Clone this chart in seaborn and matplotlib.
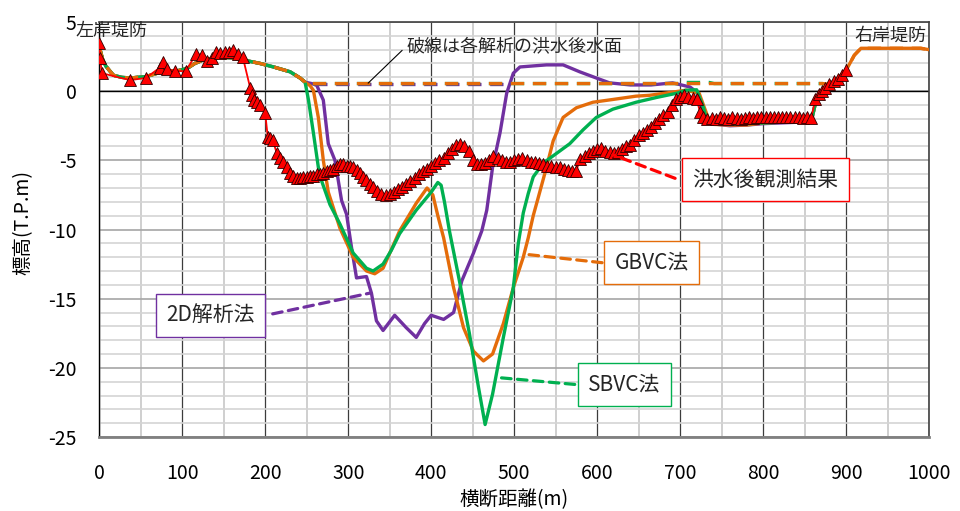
import matplotlib
matplotlib.use("Agg")
import matplotlib.pyplot as plt
import seaborn as sns
import pandas as pd

# ---- observed bed after the flood (x: m, z: T.P.m) ----
obs_x = [0, 1, 3, 37, 56, 73, 77, 82, 91, 104,
         117, 124, 130, 136, 141, 146, 151, 156, 161, 167,
         173, 182, 184, 186, 190, 194, 200, 203, 206, 209,
         214, 218, 222, 226, 230, 234, 238, 242, 246, 250,
         254, 258, 262, 266, 270, 274, 278, 282, 286, 290,
         294, 298, 302, 306, 310, 314, 318, 322, 326, 330,
         335, 340, 345, 350, 355, 360, 365, 370, 375, 380,
         385, 390, 395, 400, 405, 410, 415, 420, 425, 430,
         435, 440, 445, 450, 455, 460, 465, 470, 475, 480,
         485, 490, 495, 500, 505, 510, 515, 520, 525, 530,
         535, 540, 545, 550, 555, 560, 565, 570, 575, 579,
         585, 590, 595, 600, 605, 610, 615, 620, 625, 630,
         635, 640, 645, 650, 655, 660, 665, 670, 675, 680,
         685, 690, 695, 700, 705, 710, 715, 720, 724, 728,
         733, 738, 743, 748, 753, 758, 763, 768, 773, 778,
         783, 788, 793, 798, 803, 808, 813, 818, 823, 828,
         833, 838, 843, 848, 853, 858, 863, 867, 871, 875,
         880, 885, 890, 895, 900]
obs_z = [3.5, 2.4, 1.3, 0.8, 0.95, 1.7, 2.1, 1.6, 1.45, 1.45,
         2.7, 2.6, 2.2, 2.4, 2.8, 2.75, 2.8, 2.85, 2.95, 2.7,
         2.45, 0.2, -0.3, -0.65, -0.8, -1.0, -1.6, -3.3, -3.4, -3.55,
         -4.5, -4.8, -5.1, -5.5, -5.9, -6.1, -6.3, -6.3, -6.2, -6.2,
         -6.1, -6.1, -6.0, -6.0, -5.9, -5.8, -5.7, -5.6, -5.4, -5.3,
         -5.3, -5.4, -5.4, -5.5, -5.7, -5.9, -6.2, -6.4, -6.7, -6.9,
         -7.2, -7.4, -7.5, -7.4, -7.3, -7.1, -6.9, -6.7, -6.5, -6.3,
         -6.0, -5.8, -5.6, -5.4, -5.2, -5.0, -4.8, -4.5, -4.2, -3.9,
         -3.8, -4.0, -4.3, -5.0, -5.3, -5.3, -5.2, -5.0, -4.7, -4.8,
         -5.0, -5.1, -5.1, -5.0, -4.9, -4.8, -5.0, -5.1, -5.1, -5.2,
         -5.3, -5.4, -5.4, -5.5, -5.5, -5.6, -5.7, -5.8, -5.8, -4.9,
         -4.7, -4.5, -4.3, -4.2, -4.1, -4.3, -4.4, -4.5, -4.4, -4.2,
         -4.0, -3.9, -3.5, -3.2, -3.0, -2.8, -2.6, -2.3, -2.0, -1.7,
         -1.5, -1.0, -0.6, -0.4, -0.3, -0.4, -0.5, -0.6, -1.5, -1.9,
         -2.0, -1.95, -2.0, -1.9, -1.95, -2.0, -1.9, -1.95, -2.0, -1.95,
         -1.9, -1.95, -1.9, -1.85, -1.9, -1.85, -1.9, -1.85, -1.9, -1.85,
         -1.9, -1.85, -1.9, -1.95, -1.9, -1.95, -0.6, -0.2, 0.0, 0.2,
         0.5, 0.7, 0.9, 1.2, 1.5]

# ---- banks shared by all analyses ----
left_bank_x = [0, 4, 8, 17, 27, 37, 56, 70, 77, 93, 106, 115, 125, 145, 161,
               178, 194, 210, 230, 242, 248]
left_bank_z = [3.2, 2.3, 1.8, 1.15, 1.0, 0.95, 1.05, 1.3, 1.45, 1.45, 1.65, 2.0,
               2.25, 2.45, 2.4, 2.2, 2.0, 1.75, 1.4, 0.95, 0.65]
right_bank_x = [865, 870, 880, 890, 900]
right_bank_z = [-0.4, 0.0, 0.5, 0.9, 1.5]
crest_x = [910, 918, 940, 970, 990, 1000]
crest_z = [2.6, 3.1, 3.1, 3.1, 3.1, 3.0]

# ---- channel bed by each method ----
sbvc_x = [252, 258, 264, 268, 278, 290, 306, 322, 330, 342,
          352, 362, 382, 400, 408, 412, 416, 422, 434, 446,
          457, 465, 474, 487, 499, 505, 511, 517, 523, 535,
          551, 567, 583, 599, 619, 647, 672, 696, 707, 720,
          728, 732, 740, 760, 780, 800, 820, 840, 858]
sbvc_z = [-0.6, -3.0, -5.5, -6.5, -8.2, -9.6, -11.7, -12.8, -13.0, -12.5,
          -11.5, -10.3, -8.6, -7.3, -6.6, -6.8, -8.0, -10.1, -13.7, -17.5,
          -21.4, -24.1, -21.9, -17.8, -14.2, -11.0, -8.8, -7.4, -6.2, -5.2,
          -4.5, -3.8, -2.8, -1.9, -1.3, -0.8, -0.45, -0.15, 0.07, 0.1,
          -1.15, -2.1, -2.3, -2.4, -2.35, -2.3, -2.25, -2.2, -2.2]

gbvc_x = [254, 258, 264, 270, 276, 290, 306, 322, 332, 342,
          362, 382, 395, 402, 408, 415, 427, 439, 451, 463,
          474, 487, 499, 511, 517, 523, 529, 539, 547, 559,
          575, 595, 619, 647, 663, 691, 707, 723, 729, 735,
          740, 760, 780, 800, 820, 840, 858]
gbvc_z = [0.4, 0.07, -1.9, -5.0, -7.3, -9.9, -12.0, -13.0, -13.2, -12.8,
          -10.1, -8.1, -7.0, -7.5, -9.0, -10.6, -14.2, -17.1, -18.8, -19.5,
          -19.0, -16.8, -14.2, -12.0, -10.6, -9.0, -7.7, -5.5, -3.6, -1.9,
          -1.2, -0.8, -0.6, -0.36, -0.3, -0.07, 0.07, -0.15, -1.15, -2.1,
          -2.4, -2.45, -2.45, -2.3, -2.25, -2.2, -2.2]

twod_x = [256, 262, 270, 276, 284, 292, 298, 304, 310, 322,
          328, 334, 342, 356, 370, 382, 392, 400, 415, 427,
          437, 451, 461, 467, 474, 483, 491, 499, 507, 539,
          559, 579, 600, 615, 640, 665, 691, 712, 720, 726,
          732, 745, 760, 780, 800, 820, 840, 858]
twod_z = [0.55, 0.43, -0.65, -3.8, -5.0, -7.9, -8.9, -11.3, -13.5, -13.4,
          -14.6, -16.6, -17.3, -16.2, -17.1, -17.8, -16.8, -16.2, -16.5, -16.0,
          -13.7, -11.7, -10.1, -8.6, -5.5, -3.0, -0.15, 1.3, 1.75, 1.9,
          1.9, 1.4, 0.93, 0.6, 0.45, 0.45, 0.6, 0.3, -0.07, -1.4,
          -2.1, -2.4, -2.5, -2.45, -2.35, -2.3, -2.25, -2.2]

# ---- water surface after the flood ----
wl_level = 0.55
wl_twod_x = [248, 493]
wl_sbvc_x = [248, 697, 703, 735, 741, 872]
wl_sbvc_z = [0.55, 0.55, 0.63, 0.63, 0.55, 0.55]
wl_gbvc_x = [248, 872]

x_ticks = list(range(0, 1001, 100))
y_ticks = list(range(-25, 6, 5))

C_OBS = "#FF0000"
C_2D = "#7030A0"
C_GB = "#E46C0A"
C_SB = "#00B050"

sns.set_theme(style="white")
plt.rcParams["font.family"] = ["Noto Sans CJK JP", "DejaVu Sans"]
plt.rcParams["axes.unicode_minus"] = False

fig = plt.figure(figsize=(9.6, 5.11), dpi=100)
ax = fig.add_axes([99.3 / 960, 1 - 437 / 511, 829.7 / 960, 415 / 511])
ax.set_facecolor("white")


def frame(xs, zs):
    return pd.DataFrame({"x": xs, "z": zs})


def section(mid_x, mid_z, with_crest=False):
    xs = left_bank_x + mid_x + right_bank_x
    zs = left_bank_z + mid_z + right_bank_z
    if with_crest:
        xs = xs + crest_x
        zs = zs + crest_z
    return frame(xs, zs)


lw = 2.4
dash = (4.0, 2.6)
common = dict(x="x", y="z", sort=False, estimator=None, ax=ax, legend=False)

# bed profiles
sns.lineplot(data=section(twod_x, twod_z), color=C_2D, lw=lw, zorder=3, **common)
sns.lineplot(data=section(gbvc_x, gbvc_z, True), color=C_GB, lw=lw, zorder=3.1, **common)
sns.lineplot(data=section(sbvc_x, sbvc_z), color=C_SB, lw=lw, zorder=3.2, **common)

# water surfaces (dashed)
sns.lineplot(data=frame(wl_twod_x, [wl_level] * len(wl_twod_x)), color=C_2D, lw=lw,
             linestyle=(dash[0], dash), zorder=3.3, **common)
sns.lineplot(data=frame(left_bank_x + wl_sbvc_x, left_bank_z + wl_sbvc_z),
             color=C_SB, lw=lw, linestyle=(0, dash), zorder=3.4, **common)
sns.lineplot(data=frame(left_bank_x + wl_gbvc_x + right_bank_x[2:] + crest_x,
                        left_bank_z + [wl_level] * len(wl_gbvc_x) + right_bank_z[2:] + crest_z),
             color=C_GB, lw=lw, linestyle=(0, dash), zorder=3.5, **common)

# observed bed
sns.lineplot(data=frame(obs_x, obs_z), color=C_OBS, lw=1.3, marker="^", markersize=9,
             markerfacecolor=C_OBS, markeredgecolor="#300000", markeredgewidth=0.6,
             zorder=4, **common)

# axes, grid
ax.set_xlim(0, 1000)
ax.set_ylim(-25, 5)
ax.set_xticks(x_ticks)
ax.set_xticks(range(50, 1000, 100), minor=True)
ax.set_yticks(y_ticks)
ax.set_yticks([v for v in range(-25, 6) if v % 5], minor=True)
ax.set_xticklabels([str(v) for v in x_ticks])
ax.set_yticklabels([str(v) for v in y_ticks])
ax.tick_params(axis="both", which="both", length=0, labelsize=14, colors="black")
ax.tick_params(axis="x", pad=19)
ax.tick_params(axis="y", pad=16.5)

ax.grid(axis="x", which="major", color="#3c3c3c", lw=0.9, zorder=0)
ax.grid(axis="x", which="minor", color="#cfcfcf", lw=1.4, zorder=0)
ax.grid(axis="y", which="major", color="#a6a6a6", lw=1.2, zorder=0)
ax.grid(axis="y", which="minor", color="#d4d4d4", lw=1.2, zorder=0)
ax.set_axisbelow(True)
ax.axhline(0, color="black", lw=1.0, zorder=1)

for side in ["top", "right"]:
    ax.spines[side].set_color("#404040")
    ax.spines[side].set_linewidth(1.2)
ax.spines["left"].set_color("black")
ax.spines["left"].set_linewidth(1.0)
ax.spines["bottom"].set_color("#808080")
ax.spines["bottom"].set_linewidth(2.0)

ax.set_xlabel("横断距離(m)", fontsize=14, color="black")
ax.set_ylabel("標高(T.P.m)", fontsize=14, color="black")
ax.xaxis.label.set_va("center")
ax.yaxis.label.set_va("center")
ax.xaxis.set_label_coords(0.5, -0.15)
ax.yaxis.set_label_coords(-0.092, 0.516)

# bank and note texts
ax.text(15, 4.4, "左岸堤防", fontsize=13, ha="center", va="center", clip_on=False, zorder=6)
ax.text(953, 4.0, "右岸堤防", fontsize=13, ha="center", va="center", clip_on=False, zorder=6)
ax.text(370, 3.26, "破線は各解析の洪水後水面", fontsize=13, ha="left", va="center", zorder=6)
ax.annotate("", xy=(324, 0.58), xytext=(365, 2.95),
            arrowprops=dict(arrowstyle="-", color="black", lw=0.8, shrinkA=0, shrinkB=0),
            zorder=6)

# callouts
callouts = [
    ("洪水後観測結果", C_OBS, (803, -6.4), (619, -4.6), (694, -6.3)),
    ("GBVC法", C_GB, (666, -12.4), (515, -11.8), (606, -12.4)),
    ("SBVC法", C_SB, (633, -21.2), (480, -20.7), (573, -21.2)),
    ("2D解析法", C_2D, (134, -16.2), (326, -14.6), (209, -16.1)),
]
for label, col, pos, tip, edge in callouts:
    ax.annotate("", xy=tip, xytext=edge,
                arrowprops=dict(arrowstyle="-", color=col, lw=2.3, linestyle=(0, (3.0, 2.0)),
                                shrinkA=0, shrinkB=0), zorder=6)
    ax.text(pos[0], pos[1], label, fontsize=15, ha="center", va="center", zorder=7,
            bbox=dict(boxstyle="square,pad=0.5", fc="white", ec=col, lw=1.0))

fig.savefig("out.png", dpi=100, facecolor="white")
